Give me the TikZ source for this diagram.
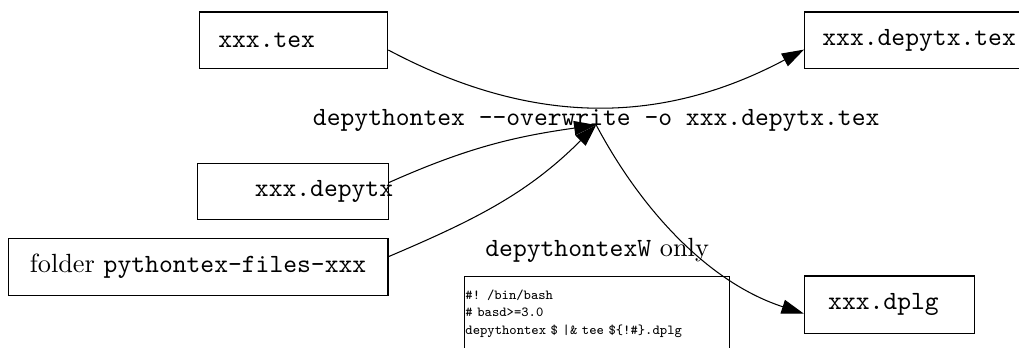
\documentclass[tikz,border=0pt]{standalone}
\usetikzlibrary{arrows,arrows.meta}

\begin{document}
\begin{tikzpicture}[>={Triangle[length=8.4pt,width=5.4pt]},
  file/.style={draw, minimum height=21.3pt, align=left, font=\ttfamily}]
  \useasboundingbox (0,0) rectangle (13.61,4.636);
  % files
  \node [file, text width=57.2pt, inner xsep=7.2pt] (tex) at (3.921,4.101) {xxx.tex};
  \node [file, text width=69pt, inner xsep=6.8pt] (dtex) at (12.197,4.101) {xxx.depytx.tex};
  \node [file, align=right, text width=76.4pt, inner xsep=-1.9pt] (depytx) at (3.908,2.084) {xxx.depytx};
  \node [draw, minimum width=144.4pt, minimum height=21.7pt] (folder) at (2.645,1.075) {folder \texttt{pythontex-files-xxx}};
  \node [file, text width=46.4pt, inner xsep=9.1pt, minimum height=21.7pt] (dplg) at (11.877,0.568) {xxx.dplg};
  % the wrapper script
  \node [draw, anchor=north west, align=left, text width=100.1pt, inner xsep=0.3pt, inner ysep=5pt, font=\fontsize{5.25}{6.65}\selectfont\ttfamily] (script) at (6.199,0.949)
    {\#! /bin/bash\\ \# basd>=3.0\\ depythontex \$ |\& tee \$\{!\#\}.dplg\\ ~\\ ~};
  % labels
  \node [anchor=base, font=\ttfamily] (cmd) at (7.963,2.966) {depythontex -{}-overwrite -o xxx.depytx.tex};
  \node [anchor=base] (only) at (7.976,1.216) {\texttt{depythontexW} only};
  \coordinate (join) at (7.963,2.966);
  % arrows
  \draw [->] (tex.-6) to [out=-28,in=-152] (dtex.185);
  \draw [->] (depytx.5) to [out=24,in=188] (join);
  \draw [->] (folder.3) to [out=23,in=225] (join);
  \draw [->] (join) to [out=-62,in=162,looseness=0.9] (dplg.186);
\end{tikzpicture}
\end{document}
